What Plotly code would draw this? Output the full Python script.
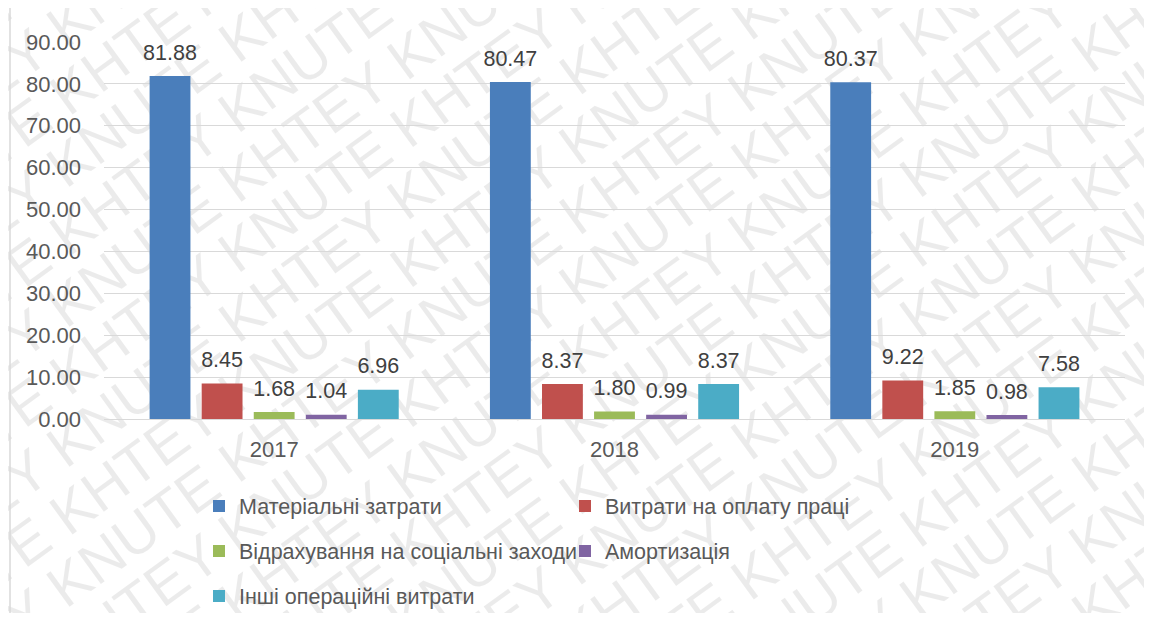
import math
import plotly.graph_objects as go

years = ["2017", "2018", "2019"]
series_names = [
    "Матеріальні затрати",
    "Витрати на оплату праці",
    "Відрахування на соціальні заходи",
    "Амортизація",
    "Інші операційні витрати",
]
material = [81.88, 80.47, 80.37]
labour = [8.45, 8.37, 9.22]
social = [1.68, 1.80, 1.85]
amort = [1.04, 0.99, 0.98]
other = [6.96, 8.37, 7.58]
series_values = [material, labour, social, amort, other]
colors = ["#4A7EBB", "#C0504D", "#9BBB59", "#8064A2", "#4BACC6"]
y_ticks = [0, 10, 20, 30, 40, 50, 60, 70, 80, 90]
watermark_words = ["KNUTE", "KHTEY"]

FONT = "Liberation Sans"
TXT = "#404040"
AX = "#595959"

# page is rendered with an 8px body margin; figure sized to fit inside the window
W, H = 1136, 605
OFF = 8

bar_w = 0.12
pitch = 0.153
start = -(4 * pitch + bar_w) / 2
xidx = list(range(len(years)))

fig = go.Figure()
legend_ids = ["legend", "legend", "legend2", "legend2", "legend3"]
for k, (name, vals, col) in enumerate(zip(series_names, series_values, colors)):
    off = start + k * pitch
    fig.add_trace(go.Bar(
        x=xidx, y=vals, name=name, width=bar_w, offset=off,
        marker=dict(color=col, line=dict(width=0)),
        legend=legend_ids[k],
    ))
    fig.add_trace(go.Scatter(
        x=[i + off + bar_w / 2 for i in xidx], y=vals,
        mode="markers+text", text=[f"{v:.2f}" for v in vals],
        textposition="top center",
        textfont=dict(family=FONT, size=21.5, color=TXT),
        marker=dict(size=16, opacity=0), showlegend=False,
        hoverinfo="skip", cliponaxis=False,
    ))


def cx(px):
    return (px - OFF) / W


def cy(py):
    return 1 - (py - OFF) / H


leg_common = dict(orientation="h", xref="container", yref="container",
                  xanchor="left", yanchor="middle",
                  font=dict(family=FONT, size=21.5, color=AX),
                  bgcolor="rgba(0,0,0,0)", entrywidth=321,
                  itemclick=False, itemdoubleclick=False, tracegroupgap=0)

plot_left, plot_right, plot_top, plot_bottom = 104 - OFF, 1125 - OFF, 42 - OFF, 419 - OFF
plot_w = plot_right - plot_left
plot_h = plot_bottom - plot_top


def px2paper(fx, fy):
    return (fx - plot_left) / plot_w, (plot_bottom - fy) / plot_h


shapes = [dict(type="line", xref="paper", yref="paper",
               x0=(10 - 104) / plot_w, x1=(10 - 104) / plot_w, y0=-1, y1=2,
               line=dict(color="#D9D9D9", width=1.5), layer="above")]

# faint diagonal watermark, drawn below gridlines and bars
ang = 36.0
t = math.tan(math.radians(ang))
spacing = 70
xa, xb = -500, W + 500
n_lines = int((H + t * W) / spacing) + 3
for j in range(-1, n_lines):
    y0 = j * spacing + 25
    p0 = px2paper(xa, y0 - t * xa)
    p1 = px2paper(xb, y0 - t * xb)
    words = watermark_words if j % 2 == 0 else watermark_words[::-1]
    txt = " ".join(words * 12)
    shapes.append(dict(
        type="line", xref="paper", yref="paper",
        x0=p0[0], y0=p0[1], x1=p1[0], y1=p1[1],
        line=dict(color="rgba(0,0,0,0)", width=0), layer="below",
        label=dict(text=txt, textangle=-ang, textposition="middle",
                   font=dict(family=FONT, size=58, color="rgba(0,0,0,0.08)")),
    ))

fig.update_layout(
    width=W, height=H,
    margin=dict(l=plot_left, r=W - plot_right, t=plot_top, b=H - plot_bottom),
    paper_bgcolor="white", plot_bgcolor="rgba(0,0,0,0)",
    barmode="overlay",
    showlegend=True,
    legend=dict(x=cx(199), y=cy(506), **leg_common),
    legend2=dict(x=cx(199), y=cy(551), **leg_common),
    legend3=dict(x=cx(199), y=cy(596), **leg_common),
    xaxis=dict(range=[-0.5, 2.5], tickmode="array", tickvals=xidx, ticktext=years,
               showgrid=False, zeroline=False, showline=False, ticks="",
               ticklabelstandoff=15,
               tickfont=dict(family=FONT, size=22, color=AX)),
    yaxis=dict(range=[0, 90], tickmode="array", tickvals=y_ticks,
               ticktext=[f"{v:.2f}" for v in y_ticks],
               showgrid=True, gridcolor="#D9D9D9", gridwidth=1.3,
               zeroline=True, zerolinecolor="#D9D9D9", zerolinewidth=1.3,
               showline=False, ticks="", ticklabelstandoff=22,
               tickfont=dict(family=FONT, size=22, color=AX)),
    shapes=shapes,
)

fig.write_html("out.html")
